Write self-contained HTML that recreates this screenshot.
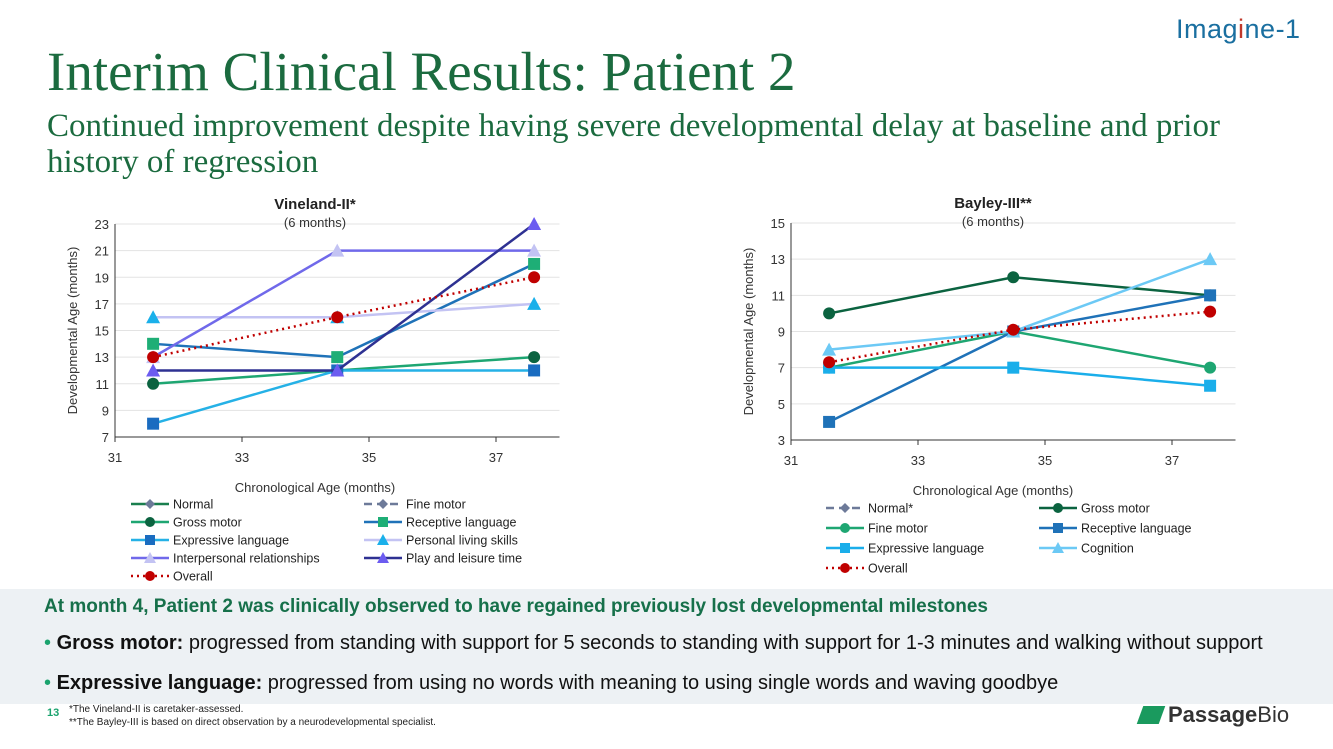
<!DOCTYPE html>
<html><head><meta charset="utf-8">
<style>
body{margin:0;width:1333px;height:749px;overflow:hidden;background:#fff;font-family:"Liberation Sans",sans-serif;position:relative}
.abs{position:absolute}
#title{left:47px;top:40px;font-family:"Liberation Serif",serif;font-size:55px;color:#1b6b3f;white-space:nowrap}
#subtitle{left:47px;top:108px;font-family:"Liberation Serif",serif;font-size:33px;color:#1b6b3f;line-height:36px;width:1210px}
#panel{left:0;top:589px;width:1333px;height:115px;background:#edf1f4}
.txt{font-size:20px;color:#111;white-space:nowrap}
svg text{font-family:"Liberation Sans",sans-serif}
</style></head><body>
<div class="abs" id="logo" style="left:1176px;top:14px;font-size:27px;color:#1a6fa0;letter-spacing:0.5px">Imag<span style="color:#c0392b">i</span>ne-1</div>
<div class="abs" id="title">Interim Clinical Results: Patient 2</div>
<div class="abs" id="subtitle">Continued improvement despite having severe developmental delay at baseline and prior history of regression</div>

<svg class="abs" id="chartL" style="left:0;top:170px" width="660" height="420"></svg>
<svg class="abs" id="chartR" style="left:670px;top:170px" width="663" height="420"></svg>

<div class="abs" id="panel"></div>
<div class="abs" style="left:44px;top:596px;font-size:19px;font-weight:bold;color:#16704a;white-space:nowrap">At month 4, Patient 2 was clinically observed to have regained previously lost developmental milestones</div>
<div class="abs txt" style="left:44px;top:632px"><span style="color:#1aa36e">•</span> <b>Gross motor:</b> progressed from standing with support for 5 seconds to standing with support for 1-3 minutes and walking without support</div>
<div class="abs txt" style="left:44px;top:672px"><span style="color:#1aa36e">•</span> <b>Expressive language:</b> progressed from using no words with meaning to using single words and waving goodbye</div>
<div class="abs" style="left:47px;top:707px;font-size:11px;font-weight:bold;color:#1aa36e">13</div>
<div class="abs" style="left:69px;top:703px;font-size:10px;color:#222;line-height:13px">*The Vineland-II is caretaker-assessed.<br>**The Bayley-III is based on direct observation by a neurodevelopmental specialist.</div>
<div class="abs" style="left:1140px;top:702px;font-size:22px;color:#333;white-space:nowrap"><span style="display:inline-block;width:22px;height:18px;background:#1a9a5e;transform:skewX(-20deg);vertical-align:-2px;margin-right:6px"></span><b>Passage</b>Bio</div>

<script>
const ageX = [31.6, 34.5, 37.6];
// Vineland series
const vNames = ["Normal","Fine motor","Gross motor","Receptive language","Expressive language","Personal living skills","Interpersonal relationships","Play and leisure time","Overall"];
const vGross = [11, 12, 13];
const vReceptive = [14, 13, 20];
const vExpressive = [8, 12, 12];
const vPersonal = [16, 16, 17];
const vInterpersonal = [13, 21, 21];
const vPlay = [12, 12, 23];
const vOverall = [13, 16, 19];
const vYTicks = [7, 9, 11, 13, 15, 17, 19, 21, 23];
const xTicks = [31, 33, 35, 37];
// Bayley series
const bGross = [10, 12, 11];
const bFine = [7, 9, 7];
const bReceptive = [4, 9, 11];
const bExpressive = [7, 7, 6];
const bCognition = [8, 9, 13];
const bOverall = [7.3, 9.1, 10.1];
const bYTicks = [3, 5, 7, 9, 11, 13, 15];

const NS = "http://www.w3.org/2000/svg";
function mk(svg, tag, attrs, name){
  const e = document.createElementNS(NS, tag);
  for (const k in attrs) e.setAttribute(k, attrs[k]);
  
  
  svg.appendChild(e); return e;
}
function marker(svg, shape, cx, cy, fill, r, name){
  if (shape==="circle") return mk(svg,"circle",{cx:cx,cy:cy,r:r,fill:fill},name);
  if (shape==="square") return mk(svg,"rect",{x:cx-r,y:cy-r,width:2*r,height:2*r,fill:fill},name);
  if (shape==="tri") return mk(svg,"polygon",{points:`${cx},${cy-r-1} ${cx-r-1},${cy+r} ${cx+r+1},${cy+r}`,fill:fill},name);
  if (shape==="diamond") return mk(svg,"polygon",{points:`${cx},${cy-r} ${cx-r},${cy} ${cx},${cy+r} ${cx+r},${cy}`,fill:fill},name);
}
function drawChart(svg, o){
  const X = v => o.x0 + (v-31)*(o.x1-o.x0)/6;
  const Y = v => o.yb - (v-o.ymin)*(o.yb-o.yt)/(o.ymax-o.ymin);
  const xEnd = X(38);
  o.yTicks.forEach(t=>{
    if (t!==o.ymin) mk(svg,"line",{x1:o.x0,x2:xEnd,y1:Y(t),y2:Y(t),stroke:"#e3e3e3","stroke-width":1},"gridline");
    const tx = mk(svg,"text",{x:o.x0-6,y:Y(t)+5,"text-anchor":"end","font-size":13,fill:"#333"},"y-tick-label");
    tx.textContent = t;
  });
  mk(svg,"line",{x1:o.x0,x2:o.x0,y1:o.yt,y2:o.yb,stroke:"#333"},"y-axis");
  mk(svg,"line",{x1:o.x0,x2:xEnd,y1:o.yb,y2:o.yb,stroke:"#333"},"x-axis");
  xTicks.forEach(t=>{
    mk(svg,"line",{x1:X(t),x2:X(t),y1:o.yb,y2:o.yb+5,stroke:"#333"},"x-tick");
    const tx = mk(svg,"text",{x:X(t),y:o.yb+25,"text-anchor":"middle","font-size":13,fill:"#333"},"x-tick-label");
    tx.textContent = t;
  });
  let t = mk(svg,"text",{x:o.cx,y:o.yt-15,"text-anchor":"middle","font-size":15,"font-weight":"bold",fill:"#222"},"chart-title"); t.textContent=o.title;
  t = mk(svg,"text",{x:o.cx,y:o.yt+3,"text-anchor":"middle","font-size":13,fill:"#333"},"chart-subtitle"); t.textContent="(6 months)";
  t = mk(svg,"text",{x:o.cx,y:o.yb+55,"text-anchor":"middle","font-size":13,fill:"#333"},"x-axis-title"); t.textContent="Chronological Age (months)";
  t = mk(svg,"text",{x:0,y:0,"text-anchor":"middle","font-size":13,fill:"#333",transform:`translate(${o.x0-38},${(o.yt+o.yb)/2}) rotate(-90)`},"y-axis-title"); t.textContent="Developmental Age (months)";
  o.series.forEach(s=>{
    if(!s.data) return;
    const pts = s.data.map((v,i)=>X(ageX[i])+","+Y(v)).join(" ");
    const a = {points:pts,fill:"none",stroke:s.line,"stroke-width":2.5};
    if (s.dash) a["stroke-dasharray"]=s.dash;
    mk(svg,"polyline",a,"series-line");
    s.data.forEach((v,i)=>marker(svg,s.shape,X(ageX[i]),Y(v),s.mark,6,"data-point"));
  });
  o.series.forEach((s,i)=>{
    const col = i%2, row = Math.floor(i/2);
    const lx = o.lx + col*o.lcol, ly = o.ly + row*o.lrow;
    const a = {x1:lx,x2:lx+38,y1:ly,y2:ly,stroke:s.line,"stroke-width":2.5};
    if (s.dash) a["stroke-dasharray"]=s.dash; else if (s.legDash) a["stroke-dasharray"]=s.legDash;
    mk(svg,"line",a,"legend-line");
    marker(svg,s.shape,lx+19,ly,s.mark,5,"legend-marker");
    const tx = mk(svg,"text",{x:lx+42,y:ly+4.5,"font-size":12.5,fill:"#222"},"legend-entry");
    tx.textContent = s.name;
  });
}
drawChart(document.getElementById("chartL"),{
  x0:115,x1:496,yt:54,yb:267,ymin:7,ymax:23,yTicks:vYTicks,cx:315,title:"Vineland-II*",
  lx:131,ly:334,lcol:233,lrow:18,
  series:[
    {name:vNames[0],data:null,line:"#1a7f4e",mark:"#6d7a99",shape:"diamond"},
    {name:vNames[1],data:null,line:"#6d7a99",mark:"#6d7a99",shape:"diamond",legDash:"8,5"},
    {name:vNames[2],data:vGross,line:"#1ea672",mark:"#0b6340",shape:"circle"},
    {name:vNames[3],data:vReceptive,line:"#1f72b8",mark:"#1eae76",shape:"square"},
    {name:vNames[4],data:vExpressive,line:"#25b1e6",mark:"#1a6cc0",shape:"square"},
    {name:vNames[5],data:vPersonal,line:"#c3c3f3",mark:"#1ab0ea",shape:"tri"},
    {name:vNames[6],data:vInterpersonal,line:"#7069ea",mark:"#c3c3f3",shape:"tri"},
    {name:vNames[7],data:vPlay,line:"#2e3192",mark:"#6c5cf0",shape:"tri"},
    {name:vNames[8],data:vOverall,line:"#c00000",mark:"#c00000",shape:"circle",dash:"2,4"}
  ]
});
drawChart(document.getElementById("chartR"),{
  x0:121,x1:502,yt:53,yb:270,ymin:3,ymax:15,yTicks:bYTicks,cx:323,title:"Bayley-III**",
  lx:156,ly:338,lcol:213,lrow:20,
  series:[
    {name:"Normal*",data:null,line:"#6d7a99",mark:"#6d7a99",shape:"diamond",legDash:"8,5"},
    {name:"Gross motor",data:bGross,line:"#0b6340",mark:"#0b6340",shape:"circle"},
    {name:"Fine motor",data:bFine,line:"#1ea672",mark:"#1ea672",shape:"circle"},
    {name:"Receptive language",data:bReceptive,line:"#1f72b8",mark:"#1f72b8",shape:"square"},
    {name:"Expressive language",data:bExpressive,line:"#1aaeea",mark:"#1aaeea",shape:"square"},
    {name:"Cognition",data:bCognition,line:"#6cc9f5",mark:"#6cc9f5",shape:"tri"},
    {name:"Overall",data:bOverall,line:"#c00000",mark:"#c00000",shape:"circle",dash:"2,4"}
  ]
});
</script>
</body></html>
